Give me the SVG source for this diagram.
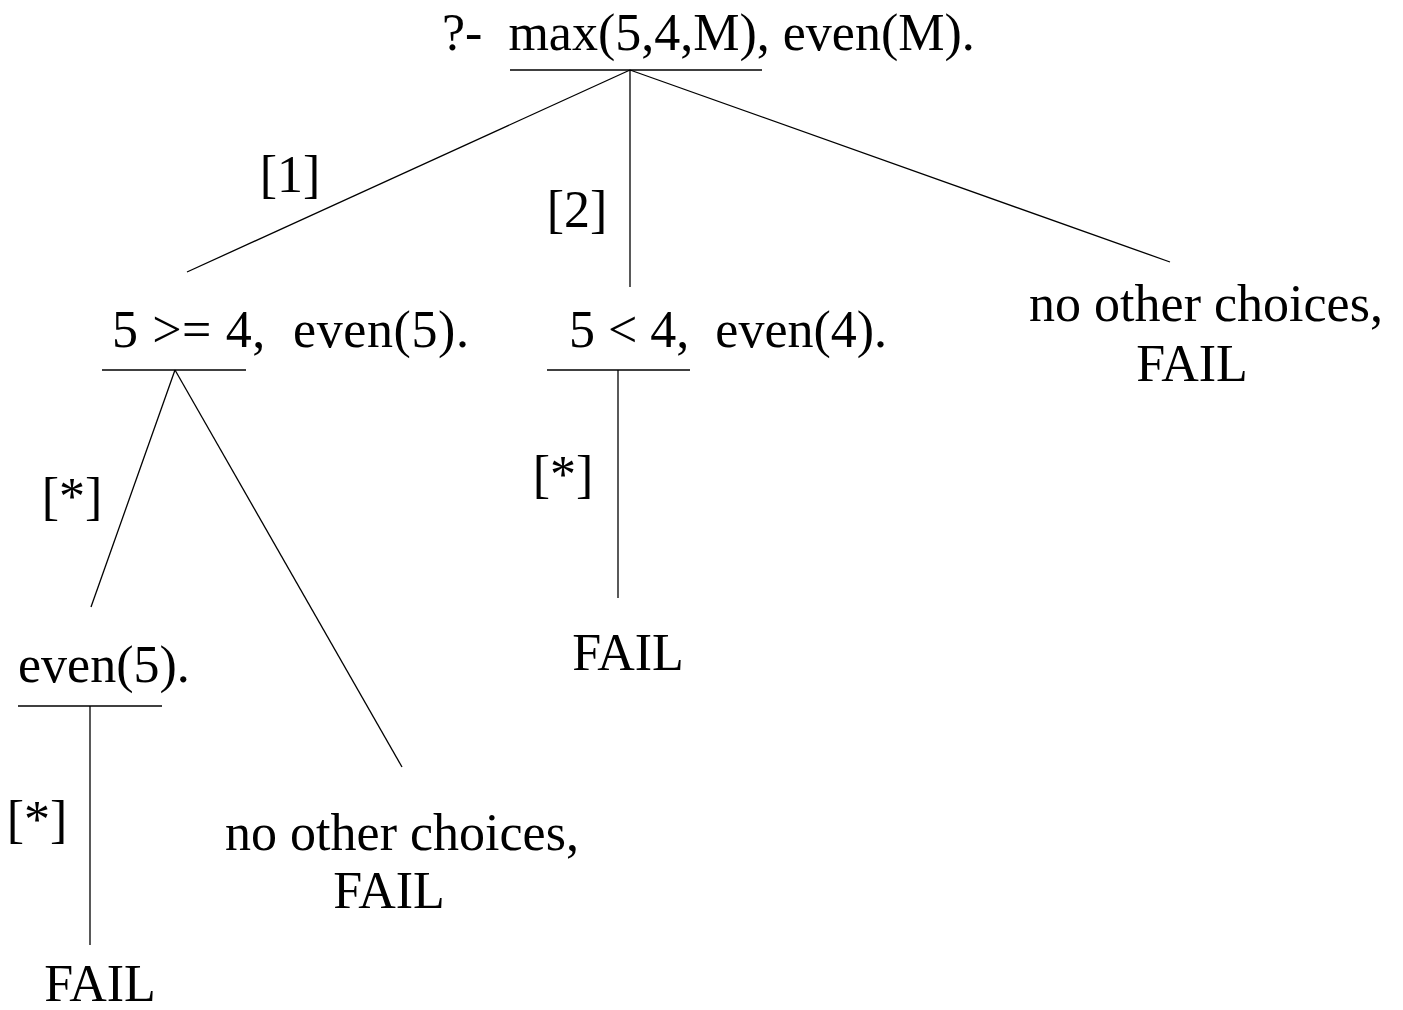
<svg xmlns="http://www.w3.org/2000/svg" width="1403" height="1010" viewBox="0 0 1403 1010">
<style>
text{font-family:"Liberation Serif","Times New Roman",serif;font-size:52px;fill:#000;white-space:pre}
.m{text-anchor:middle}
line{stroke:#000;stroke-width:1.3}
</style>
<rect width="1403" height="1010" fill="#fff"/>
<g id="connectors">
<line x1="630" y1="70" x2="187" y2="272"/>
<line x1="630" y1="70" x2="630" y2="287"/>
<line x1="630" y1="70" x2="1170" y2="262"/>
<line x1="175" y1="370" x2="91" y2="607"/>
<line x1="175" y1="370" x2="402" y2="767"/>
<line x1="618" y1="370" x2="618" y2="598"/>
<line x1="90" y1="706" x2="90" y2="945"/>
<text class="m" x="290" y="192">[1]</text>
<text class="m" x="577" y="227">[2]</text>
<text class="m" x="72" y="514">[*]</text>
<text class="m" x="563" y="492">[*]</text>
<text class="m" x="37" y="837">[*]</text>
</g>
<g id="root">
<text x="442" y="50" xml:space="preserve">?-  max(5,4,M), even(M).</text>
<line x1="510" y1="70" x2="762" y2="70"/>
</g>
<g id="n1">
<text x="112" y="347" xml:space="preserve" textLength="357" lengthAdjust="spacing">5 &gt;= 4,  even(5).</text>
<line x1="102" y1="370" x2="246" y2="370"/>
</g>
<g id="n2">
<text x="569" y="347" xml:space="preserve">5 &lt; 4,  even(4).</text>
<line x1="547" y1="370" x2="690" y2="370"/>
</g>
<g id="n3">
<text class="m" x="1206" y="321">no other choices,</text>
<text class="m" x="1192" y="381">FAIL</text>
</g>
<g id="n4">
<text x="18" y="682">even(5).</text>
<line x1="18" y1="706" x2="162" y2="706"/>
</g>
<g id="n5">
<text class="m" x="402" y="850">no other choices,</text>
<text class="m" x="389" y="908">FAIL</text>
</g>
<g id="n6">
<text class="m" x="628" y="670">FAIL</text>
</g>
<g id="n7">
<text class="m" x="100" y="1001">FAIL</text>
</g>
</svg>
